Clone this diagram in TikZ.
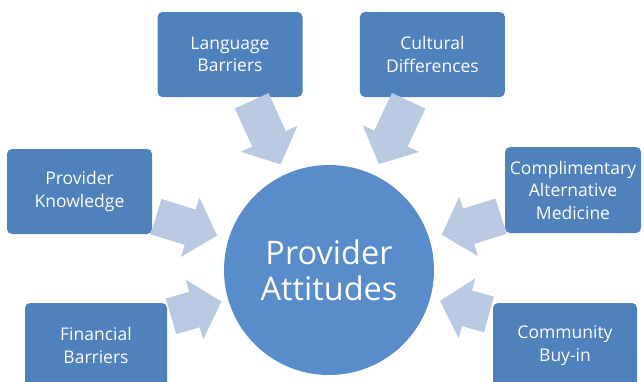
\documentclass[tikz,border=0pt]{standalone}
\usepackage{fontspec}
\setmainfont{Open Sans}
\usetikzlibrary{positioning, arrows.meta}

\definecolor{boxblue}{RGB}{79,129,189}
\definecolor{hubblue}{RGB}{88,140,202}
\definecolor{flowblue}{RGB}{185,201,226}

\begin{document}
\begin{tikzpicture}[
    x=1pt, y=-1pt,
    factor/.style={
        rectangle,
        rounded corners=5pt,
        fill=boxblue,
        text=white,
        align=center,
        inner sep=1pt,
        minimum width=145pt,
        minimum height=85pt,
        font=\fontsize{17.5}{22.5}\selectfont
    },
    hub/.style={
        circle,
        fill=hubblue,
        text=white,
        align=center,
        inner sep=0pt,
        minimum size=210pt,
        font=\fontsize{32.5}{36}\selectfont
    },
    % fat shaft stops at the back of the head, head sits on a thin line
    flow/.style={
        line width=37pt,
        draw=flowblue,
        shorten <=4pt,
        shorten >=#1+27pt,
        postaction={
            draw=flowblue,
            line width=0.4pt,
            shorten >=#1,
            -{Triangle[width=62pt, length=28pt]}
        }
    },
    flow/.default=11pt
]
\clip (0,0) rectangle (644,381);

\node[hub] (attit) at (329,270) {Provider\\Attitudes};

\node[factor] (lang) at (230,54.5) {Language\\Barriers};
\node[factor, right=57pt of lang] (cult) {Cultural\\Differences};

\node[factor] (know) at (79.5,191.5) {Provider\\Knowledge};
\node[factor, minimum width=142pt] (fin) at (96,345.5) {Financial\\Barriers};

\node[factor, minimum width=136pt, minimum height=86pt] (comp) at (573,190)
    {Complimentary\\Alternative\\Medicine};
\node[factor, minimum width=144pt] (comm) at (565,345.5) {Community\\Buy-in};

% block arrows into the hub
\draw[flow] ([xshift=20pt]lang.south) -- (attit);
\draw[flow=12pt] ([xshift=-22pt]cult.south) -- (attit);
\draw[flow=12pt] ([yshift=-24pt]know.east) -- (attit);
\draw[flow=7pt] ([yshift=28pt]fin.east) -- (attit);
\draw[flow=13pt] ([yshift=-25pt]comp.west) -- (attit);
\draw[flow=10pt] ([yshift=30pt]comm.west) -- (attit);

\end{tikzpicture}
\end{document}
